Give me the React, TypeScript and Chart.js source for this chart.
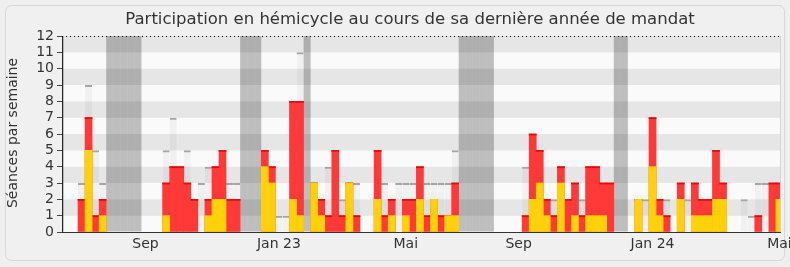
import { useEffect, useRef } from 'react';
import { Chart, registerables } from 'chart.js';

Chart.register(...registerables);

// Week index of the first entry in the arrays below (weeks are counted from the first bar)
const FIRST_WEEK = -3;

// Weekly values, one entry per week from FIRST_WEEK
const presence = [
  0, 0, 0,
  3, 9, 5, 3,
  0, 0, 0, 0, 0,
  0, 0, 0,
  5, 7, 4, 5, 2, 3, 4, 4, 5, 3, 3,
  0, 0, 0,
  5, 4, 1, 1, 8, 11,
  0,
  3, 2, 4, 5, 2, 3, 3,
  0, 0,
  5, 3, 2, 3, 3, 3, 4, 3, 3, 3, 3, 5,
  0, 0, 0, 0, 0,
  0, 0, 0, 0,
  4, 6, 5, 2, 2, 4, 2, 3, 2, 4, 4, 3, 3,
  0, 0, 0,
  2, 2, 7, 2, 2, 0, 3, 2, 3, 2, 2, 5, 3,
  0, 0,
  2, 1, 3, 3, 3, 3,
];

const participation = [
  0, 0, 0,
  2, 7, 1, 2,
  0, 0, 0, 0, 0,
  0, 0, 0,
  3, 4, 4, 3, 2, 0, 2, 4, 5, 2, 2,
  0, 0, 0,
  5, 4, 0, 0, 8, 8,
  0,
  3, 2, 1, 5, 1, 3, 1,
  0, 0,
  5, 1, 2, 0, 2, 2, 4, 1, 2, 1, 1, 3,
  0, 0, 0, 0, 0,
  0, 0, 0, 0,
  1, 6, 5, 2, 1, 4, 2, 3, 1, 4, 4, 3, 3,
  0, 0, 0,
  2, 0, 7, 2, 1, 0, 3, 0, 3, 2, 2, 5, 3,
  0, 0,
  0, 0, 1, 0, 3, 3,
];

const interventions = [
  0, 0, 0,
  0, 5, 0, 1,
  0, 0, 0, 0, 0,
  0, 0, 0,
  1, 0, 0, 0, 0, 0, 1, 2, 2, 0, 0,
  0, 0, 0,
  4, 3, 0, 0, 2, 1,
  0,
  3, 1, 0, 0, 0, 3, 0,
  0, 0,
  2, 0, 1, 0, 1, 0, 2, 0, 2, 0, 1, 1,
  0, 0, 0, 0, 0,
  0, 0, 0, 0,
  0, 2, 3, 1, 0, 3, 0, 1, 0, 1, 1, 1, 0,
  0, 0, 0,
  2, 0, 4, 1, 0, 0, 2, 0, 1, 1, 1, 2, 2,
  0, 0,
  0, 0, 0, 0, 0, 2,
];

const vacances = [
  1, 0, 0,
  0, 0, 0, 0,
  1, 1, 1, 1, 1,
  0, 0, 0,
  0, 0, 0, 0, 0, 0, 0, 0, 0, 0, 0,
  1, 1, 1,
  0, 0, 0, 0, 0, 0,
  1,
  0, 0, 0, 0, 0, 0, 0,
  0, 0,
  0, 0, 0, 0, 0, 0, 0, 0, 0, 0, 0, 0,
  1, 1, 1, 1, 1,
  0, 0, 0, 0,
  0, 0, 0, 0, 0, 0, 0, 0, 0, 0, 0, 0, 0,
  1, 1, 0,
  0, 0, 0, 0, 0, 0, 0, 0, 0, 0, 0, 0, 0,
  0, 0,
  0, 0, 0, 0, 0, 0,
];

const monthLabels = ['Sep', 'Jan 23', 'Mai', 'Sep', 'Jan 24', 'Mai'];
const monthTickWeeks = [9.08, 28.0, 46.0, 62.0, 81.0, 99.0];

const Y_MAX = 12;
const TITLE = 'Participation en hémicycle au cours de sa dernière année de mandat';
const Y_TITLE = 'Séances par semaine';

const FONT = "'DejaVu Sans', Verdana, sans-serif";
const EDGE = 0.065; // thickness of the darker top edge of red bars, in value units

const toPoints = (arr: number[]) =>
  arr.map((v, i) => ({ x: FIRST_WEEK + i, y: v > 0 ? v : null }));

export default function App() {
  const ref = useRef<HTMLCanvasElement>(null);

  useEffect(() => {
    const canvas = ref.current;
    if (!canvas) return;

    const decor = {
      id: 'decor',
      beforeDraw(chart: any) {
        const { ctx, chartArea, scales } = chart;
        const y = scales.y;
        ctx.save();
        ctx.fillStyle = '#efefef';
        ctx.fillRect(0, 0, chart.width, chart.height);
        ctx.beginPath();
        const rx = 5.5, ry = 5.5, rw = 779, rh = 255, rr = 6;
        ctx.moveTo(rx + rr, ry);
        ctx.arcTo(rx + rw, ry, rx + rw, ry + rh, rr);
        ctx.arcTo(rx + rw, ry + rh, rx, ry + rh, rr);
        ctx.arcTo(rx, ry + rh, rx, ry, rr);
        ctx.arcTo(rx, ry, rx + rw, ry, rr);
        ctx.closePath();
        ctx.fillStyle = '#f0f0f0';
        ctx.fill();
        ctx.strokeStyle = '#d8d8d8';
        ctx.lineWidth = 1;
        ctx.stroke();
        for (let v = 0; v < Y_MAX; v++) {
          const top = y.getPixelForValue(v + 1);
          const bot = y.getPixelForValue(v);
          ctx.fillStyle = v % 2 === 0 ? '#fafafa' : '#e6e6e6';
          ctx.fillRect(chartArea.left, top, chartArea.right - chartArea.left, bot - top);
        }
        ctx.restore();
      },
      afterDatasetsDraw(chart: any) {
        const { ctx, chartArea, scales } = chart;
        const y = scales.y;
        ctx.save();
        const ty = Math.round(y.getPixelForValue(Y_MAX)) + 0.5;
        ctx.strokeStyle = '#000';
        ctx.lineWidth = 1;
        ctx.setLineDash([1, 3]);
        ctx.beginPath();
        ctx.moveTo(chartArea.left, ty);
        ctx.lineTo(chartArea.right, ty);
        ctx.stroke();
        ctx.setLineDash([]);
        ctx.strokeStyle = '#d4d4d4';
        ctx.beginPath();
        ctx.moveTo(chartArea.right + 0.5, chartArea.top);
        ctx.lineTo(chartArea.right + 0.5, chartArea.bottom);
        ctx.stroke();
        ctx.restore();
      },
      afterDraw(chart: any) {
        const { ctx, chartArea, scales } = chart;
        const x = scales.x;
        ctx.save();
        ctx.fillStyle = '#333';
        ctx.textAlign = 'center';
        ctx.textBaseline = 'middle';
        ctx.font = `16.5px ${FONT}`;
        ctx.fillText(TITLE, 410, 20);
        ctx.save();
        ctx.translate(13, (chartArea.top + chartArea.bottom) / 2 - 1);
        ctx.rotate(-Math.PI / 2);
        ctx.font = `14px ${FONT}`;
        ctx.fillText(Y_TITLE, 0, 0);
        ctx.restore();
        ctx.font = `14px ${FONT}`;
        ctx.textBaseline = 'top';
        monthTickWeeks.forEach((w, i) => {
          const px = x.getPixelForValue(w);
          ctx.fillText(monthLabels[i], px, chartArea.bottom + 5);
        });
        ctx.restore();
      },
    };

    const chart = new Chart(canvas, {
      type: 'bar',
      data: {
        datasets: [
          {
            label: 'Interventions',
            data: toPoints(interventions),
            backgroundColor: 'rgb(255,209,10)',
            borderWidth: 0,
            order: 0,
          },
          {
            label: 'Présences (bord)',
            data: participation.map((v, i) => ({ x: FIRST_WEEK + i, y: v > 0 ? [v - EDGE, v] : null })),
            backgroundColor: 'rgb(230,10,10)',
            borderWidth: 0,
            order: 1,
          },
          {
            label: 'Présences',
            data: toPoints(participation),
            backgroundColor: 'rgb(255,56,56)',
            borderWidth: 0,
            order: 2,
          },
          {
            label: 'Séances',
            data: toPoints(presence),
            backgroundColor: 'rgba(0,0,0,0.035)',
            borderColor: 'rgba(165,165,165,1)',
            borderWidth: { top: 2, left: 0, right: 0, bottom: 0 },
            borderSkipped: false,
            inflateAmount: 0,
            order: 3,
          },
          {
            label: 'Vacances',
            data: vacances.map((v, i) => ({ x: FIRST_WEEK + i, y: v ? Y_MAX : null })),
            backgroundColor: 'rgba(0,0,0,0.24)',
            borderWidth: 0,
            inflateAmount: 0,
            order: 4,
          },
        ],
      } as any,
      options: {
        animation: false,
        responsive: false,
        layout: { padding: { left: 0, top: 36, right: 10, bottom: 0 } },
        datasets: { bar: { grouped: false, barPercentage: 1, categoryPercentage: 1 } } as any,
        plugins: { legend: { display: false }, title: { display: false }, tooltip: { enabled: false } },
        scales: {
          x: {
            type: 'linear',
            min: -2.77,
            max: 99.08,
            offset: false,
            grid: { display: false },
            border: { display: true, color: '#333', width: 1 },
            ticks: { display: false },
            afterFit: (s: any) => { s.height = 35; },
          },
          y: {
            min: 0,
            max: Y_MAX,
            stacked: false,
            ticks: { stepSize: 1, autoSkip: false, color: '#333', font: { family: FONT, size: 14 }, padding: 3 },
            grid: { drawOnChartArea: false, drawTicks: true, tickLength: 5, color: '#444' },
            border: { display: true, color: '#333', width: 1 },
            afterFit: (s: any) => { s.width = 62; },
          },
        },
      } as any,
      plugins: [decor],
    });
    return () => chart.destroy();
  }, []);

  return (
    <div style={{ position: 'fixed', left: 0, top: 0, width: 790, height: 267 }}>
      <canvas ref={ref} width={790} height={267} style={{ display: 'block' }} />
    </div>
  );
}
